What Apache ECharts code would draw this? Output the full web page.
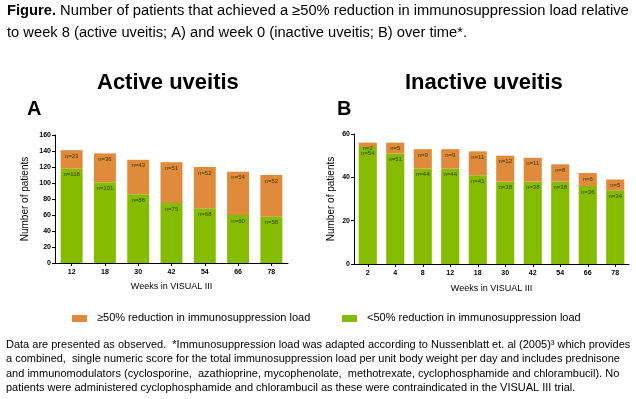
<!DOCTYPE html>
<html><head><meta charset="utf-8">
<script src="https://cdn.jsdelivr.net/npm/echarts@6/dist/echarts.min.js"></script>
<style>html,body{margin:0;padding:0;background:#fff}#c{width:636px;height:399px}</style>
</head><body><div id="c"></div>
<script>
const activeWeeks = ['12','18','30','42','54','66','78'];
const activeLow = [118,101,86,75,68,60,58];
const activeHigh = [23,36,43,51,52,54,52];
const inactiveWeeks = ['2','4','8','12','18','30','42','54','66','78'];
const inactiveLow = [54,51,44,44,41,38,38,38,36,34];
const inactiveHigh = [2,5,9,9,11,12,11,8,6,5];
const legendHigh = '≥50% reduction in immunosuppression load';
const legendLow = '<50% reduction in immunosuppression load';

const ORANGE = '#E08A3C', GREEN = '#86BC00';
const chart = echarts.init(document.getElementById('c'), null, {renderer:'canvas'});
const font = 'Liberation Sans, Arial, sans-serif';
function yAxis(idx, max, interval, gap){
  return {gridIndex: idx, type:'value', min:0, max:max, interval:interval,
    name:'Number of patients', nameLocation:'middle', nameGap:gap, nameRotate:90,
    nameTextStyle:{fontSize:10, color:'#000', fontFamily:font},
    axisLine:{show:true, lineStyle:{color:'#000', width:1}},
    axisTick:{show:true, length:3, lineStyle:{color:'#000'}},
    axisLabel:{fontSize:7, fontWeight:'bold', color:'#000', margin:4, fontFamily:font},
    splitLine:{show:false}};
}
function xAxis(idx, data, gap){
  return {gridIndex: idx, type:'category', data:data,
    name:'Weeks in VISUAL III', nameLocation:'middle', nameGap:gap,
    nameTextStyle:{fontSize:9, color:'#000', fontFamily:font},
    axisLine:{lineStyle:{color:'#000', width:1}},
    axisTick:{show:true, length:3, alignWithLabel:true, lineStyle:{color:'#000'}},
    axisLabel:{fontSize:7, fontWeight:'bold', color:'#000', margin:6, fontFamily:font}};
}
function lbl(){
  return {show:true, position:'insideTop', distance:3, fontSize:6, color:'#3a3a00', fontFamily:font,
    formatter: p => 'n=' + p.value};
}
function bars(name, data, color, xi, yi, stack){
  return {name:name, type:'bar', stack:stack, xAxisIndex:xi, yAxisIndex:yi, data:data,
    barWidth:'66%', itemStyle:{color:color}, label:lbl(), silent:true};
}
function txt(x,y,text,size,weight,extra){
  return Object.assign({type:'text', left:x, top:y, style:{text:text, fontSize:size, fontWeight:weight||'normal', fill:'#000', fontFamily:font}}, extra||{});
}
const bottomLines = [
 'Data are presented as observed.  *Immunosuppression load was adapted according to Nussenblatt et. al (2005)³ which provides',
 'a combined,  single numeric score for the total immunosuppression load per unit body weight per day and includes prednisone',
 'and immunomodulators (cyclosporine,  azathioprine, mycophenolate,  methotrexate, cyclophosphamide and chlorambucil). No',
 'patients were administered cyclophosphamide and chlorambucil as these were contraindicated in the VISUAL III trial.'
];
const graphics = [
  {type:'text', x:7, y:4, scaleX:1.05, style:{text:'{b|Figure.} Number of patients that achieved a ≥50% reduction in immunosuppression load relative', fontSize:14, fontFamily:font, fill:'#000', rich:{b:{fontWeight:'bold', fontSize:14, fontFamily:font}}}},
  {type:'text', x:7, y:26, scaleX:1.05, style:{text:'to week 8 (active uveitis; A) and week 0 (inactive uveitis; B) over time*.', fontSize:14, fontFamily:font, fill:'#000'}},
  txt(97, 72, 'Active uveitis', 22, 'bold'),
  txt(405, 72, 'Inactive uveitis', 22, 'bold'),
  txt(27, 99, 'A', 20, 'bold'),
  txt(337, 99, 'B', 20, 'bold'),
  {type:'rect', shape:{x:72, y:315, width:15, height:7}, style:{fill:ORANGE}},
  txt(97, 312.5, legendHigh, 11),
  {type:'rect', shape:{x:342, y:315, width:15, height:7}, style:{fill:GREEN}},
  txt(367, 312.5, legendLow, 11)
];
bottomLines.forEach((l,i)=>graphics.push(txt(6, 339.5 + i*14.3, l, 11)));

chart.setOption({
  animation:false,
  grid:[{left:55, top:135, width:233, height:128},{left:354, top:134, width:275, height:130}],
  xAxis:[xAxis(0, activeWeeks, 19), xAxis(1, inactiveWeeks, 20)],
  yAxis:[yAxis(0, 160, 20, 25), yAxis(1, 60, 20, 18)],
  series:[
    bars(legendLow, activeLow, GREEN, 0, 0, 'a'),
    bars(legendHigh, activeHigh, ORANGE, 0, 0, 'a'),
    bars(legendLow, inactiveLow, GREEN, 1, 1, 'b'),
    bars(legendHigh, inactiveHigh, ORANGE, 1, 1, 'b')
  ],
  graphic: graphics
});
</script></body></html>
